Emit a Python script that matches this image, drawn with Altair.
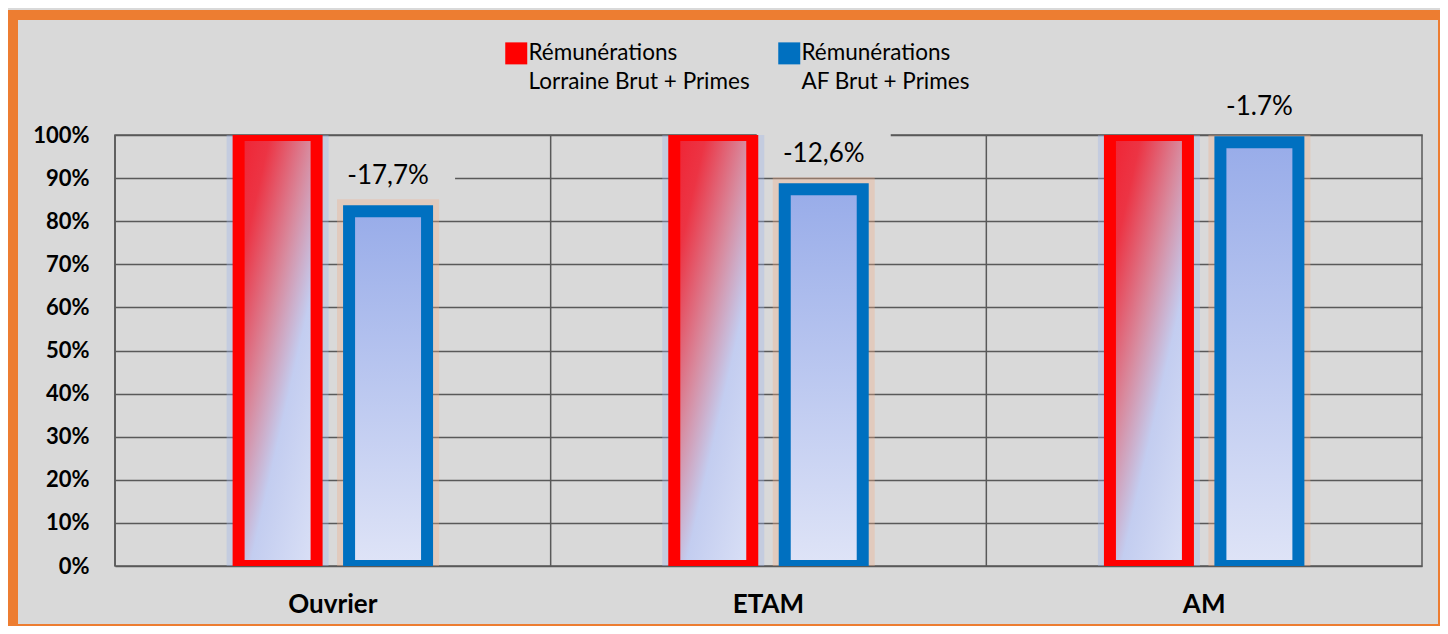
import altair as alt
import pandas as pd

categories = ["Ouvrier", "ETAM", "AM"]
series_names = ["Rémunérations|Lorraine Brut + Primes", "Rémunérations|AF Brut + Primes"]
lorraine_values = [1.0, 1.0, 1.0]
af_values = [0.823, 0.874, 0.983]
gap_labels = ["-17,7%", "-12,6%", "-1.7%"]
y_ticks = [0.0, 0.1, 0.2, 0.3, 0.4, 0.5, 0.6, 0.7, 0.8, 0.9, 1.0]

rows = []
for c, v in zip(categories, lorraine_values):
    rows.append({"cat": c, "series": series_names[0], "value": v, "label": ""})
for c, v, l in zip(categories, af_values, gap_labels):
    rows.append({"cat": c, "series": series_names[1], "value": v, "label": l})
df = pd.DataFrame(rows)
cats_df = pd.DataFrame({"cat": categories})

FONT = "Lato"
GRID = "#595959"

x_scale = alt.Scale(domain=categories, paddingInner=0, paddingOuter=0)
x_axis = alt.Axis(title=None, grid=False, domain=False, ticks=False, labelAngle=0,
                  labelFont=FONT, labelFontWeight="bold", labelFontSize=26,
                  labelColor="black", labelPadding=25)
y_axis = alt.Axis(title=None, values=y_ticks, format=".0%", grid=True, gridColor=GRID,
                  gridWidth=1.5, domain=False, ticks=False, labelFont=FONT,
                  labelFontWeight="bold", labelFontSize=22, labelColor="black",
                  labelPadding=26)

X = alt.X("cat:N", sort=categories, scale=x_scale, axis=x_axis)
offset_domain = ["_left", series_names[0], series_names[1], "_right"]
XO = alt.XOffset("series:N", scale=alt.Scale(domain=offset_domain, paddingInner=0.294, paddingOuter=0.119))
Y = alt.Y("value:Q", scale=alt.Scale(domain=[0, 1], nice=False), axis=y_axis)

base = alt.Chart(df).encode(x=X, xOffset=XO, y=Y)

vgrid = alt.Chart(cats_df).mark_rule(color=GRID, strokeWidth=1.5).encode(
    x=alt.X("cat:N", sort=categories, scale=x_scale, axis=x_axis, bandPosition=0)
)

is_red = alt.datum.series == series_names[0]
is_blue = alt.datum.series == series_names[1]

label_box = base.transform_filter(is_blue).mark_bar(
    fill="#d9d9d9", width=134, xOffset=7, yOffset=-58, y2Offset=-16
).encode(y2=alt.Y2("value:Q"))

red_grad = alt.Gradient(
    gradient="linear", x1=0, y1=0, x2=0.878, y2=1.098,
    stops=[alt.GradientStop(color="#f02232", offset=0),
           alt.GradientStop(color="#ec3444", offset=0.18),
           alt.GradientStop(color="#d88a9e", offset=0.42),
           alt.GradientStop(color="#c3cdf0", offset=0.62),
           alt.GradientStop(color="#dbe1f6", offset=1)])
blue_grad = alt.Gradient(
    gradient="linear", x1=0, y1=0, x2=0, y2=1,
    stops=[alt.GradientStop(color="#98ace9", offset=0),
           alt.GradientStop(color="#dfe4f7", offset=1)])

red_glow = base.transform_filter(is_red).mark_bar(
    fill="transparent", stroke="#9db4ec", strokeWidth=24, strokeOpacity=0.35, clip=True)
blue_glow = base.transform_filter(is_blue).mark_bar(
    fill="transparent", stroke="#f0b08a", strokeWidth=24, strokeOpacity=0.35, clip=True)

stroke_enc = alt.Stroke(
    "series:N",
    scale=alt.Scale(domain=series_names, range=["#ff0000", "#0070c0"]),
    legend=alt.Legend(title=None, orient="none", legendX=390, legendY=-93,
                      direction="horizontal", columns=2, columnPadding=10,
                      symbolType="square", symbolSize=100, symbolStrokeWidth=12,
                      labelFont=FONT, labelFontSize=22.5, labelColor="black",
                      labelOffset=1, labelLimit=400, padding=0,
                      labelExpr="split(datum.label, '|')"),
)

red_bars = base.transform_filter(is_red).mark_bar(
    fill=red_grad, strokeWidth=12, clip=True).encode(stroke=stroke_enc)
blue_bars = base.transform_filter(is_blue).mark_bar(
    fill=blue_grad, strokeWidth=12, clip=True).encode(stroke=stroke_enc)

texts = base.transform_filter(is_blue).mark_text(
    dy=-35, font=FONT, fontSize=26, color="black").encode(text="label:N")

ORANGE = "#ed7d31"
frame_left = alt.Chart(cats_df).mark_rule(color=ORANGE, strokeWidth=10).encode(
    x=alt.value(-102), y=alt.value(-125), y2=alt.value(491))
frame_top = alt.Chart(cats_df).mark_rule(color=ORANGE, strokeWidth=10).encode(
    x=alt.value(-107), x2=alt.value(1325), y=alt.value(-120))
frame_right = alt.Chart(cats_df).mark_rule(color=ORANGE, strokeWidth=2).encode(
    x=alt.value(1324), y=alt.value(-125), y2=alt.value(491))
frame_bottom = alt.Chart(cats_df).mark_rule(color=ORANGE, strokeWidth=2).encode(
    x=alt.value(-107), x2=alt.value(1325), y=alt.value(490))

chart = alt.layer(
    vgrid, label_box, red_glow, blue_glow, red_bars, blue_bars, texts,
    frame_left, frame_top, frame_right, frame_bottom
).properties(
    width=1307, height=431,
    autosize=alt.AutoSizeParams(type="none"),
    padding={"left": 107, "top": 127, "right": 18, "bottom": 60},
    background="#d9d9d9",
).configure(
    style={"guide-label": {"lineHeight": 29}}
).configure_view(
    stroke=GRID, strokeWidth=1.5
)

chart.save("out.html", embed_options={"renderer": "svg", "actions": False})
